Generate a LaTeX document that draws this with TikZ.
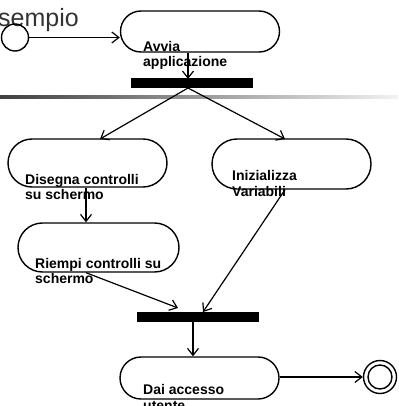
\documentclass[tikz,border=0pt]{standalone}
\usepackage{fontspec}
\setmainfont{Liberation Sans}
\usetikzlibrary{arrows.meta}
\begin{document}
\begin{tikzpicture}[x=1pt,y=-1pt,
  state/.style={draw, line width=1.4pt, inner sep=0, minimum width=159pt},
  bar/.style={fill=black, inner sep=0, minimum width=122pt, minimum height=10pt},
  lbl/.style={font=\fontsize{14}{15.5}\selectfont\bfseries, align=left, inner sep=0, anchor=base west},
  flow/.style={line width=1.2pt, -{Straight Barb[length=7pt,width=11pt]}}]
\useasboundingbox (0,0) rectangle (398,406);
\clip (0,0) rectangle (398,406);
% header rule
\shade[left color=black!75, right color=black!5] (0,96) rectangle (398,99);
\node[font=\fontsize{25}{27}\selectfont, text=black!80, anchor=base east, inner sep=0] (title) at (79,27) {sempio};
% states
\node[draw, circle, line width=1.4pt, minimum size=27pt, inner sep=0] (init) at (15,37.5) {};
\node[state, minimum height=41pt, rounded corners=20.5pt] (avvia) at (200,31.5) {};
\node[state, minimum height=48pt, rounded corners=24pt] (dis) at (87.5,163) {};
\node[state, minimum height=50pt, rounded corners=25pt] (ini) at (291.5,164) {};
\node[state, minimum height=49pt, minimum width=161pt, rounded corners=24.5pt] (rie) at (98.5,247.5) {};
\node[state, minimum height=42pt, rounded corners=21pt] (dai) at (199.5,378) {};
\node[bar] (b1) at (192,83) {};
\node[bar] (b2) at (198,317) {};
\node[draw, circle, line width=1.4pt, minimum size=33pt, inner sep=0] (fin) at (380,377) {};
\node[draw, circle, line width=1.4pt, minimum size=24pt, inner sep=0] (finin) at (fin) {};
% labels (anchor at the baseline of the last line)
\node[lbl] (tA) at (143,67) {Avvia\\applicazione};
\node[lbl] (tD) at (25,199.5) {Disegna controlli\\su schermo};
\node[lbl] (tI) at (232,196) {Inizializza\\Variabili};
\node[lbl] (tR) at (35,283.5) {Riempi controlli su\\schermo};
\node[lbl] (tU) at (143,410) {Dai accesso\\utente};
% connector anchors
\coordinate (p1) at (188,79);
\coordinate (p1b) at (188,88);
\coordinate (d1) at (100,139);
\coordinate (i1) at (285,139);
\coordinate (dx) at (86,0);
\coordinate (ix) at (285,0);
\coordinate (q1) at (178,308);
\coordinate (q2) at (203,312);
\coordinate (q3) at (193,0);
% connectors
\draw[flow] (init.east) -- (init.east -| avvia.west);
\draw[flow] (p1 |- avvia.south) -- (p1);
\draw[flow] (p1b) -- (d1);
\draw[flow] (p1b) -- (i1);
\draw[flow] (dx |- dis.south) -- (dx |- rie.north);
\draw[flow] (ix |- ini.south) -- (q2);
\draw[flow] (dx |- rie.south) -- (q1);
\draw[flow] (q3 |- b2.south) -- (q3 |- dai.north);
\draw[flow] (dai.east |- fin) -- (fin.west);
\end{tikzpicture}
\end{document}
